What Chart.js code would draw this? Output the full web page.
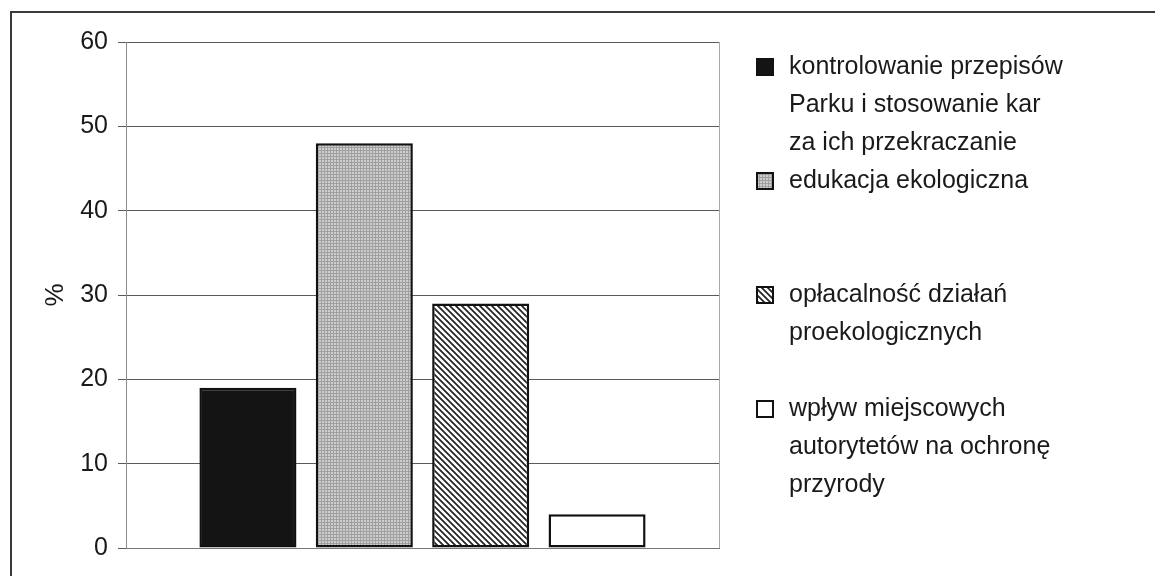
<!DOCTYPE html>
<html>
<head>
<meta charset="utf-8">
<script src="https://cdn.jsdelivr.net/npm/chart.js@4/dist/chart.umd.min.js"></script>
<style>
  html, body { margin: 0; padding: 0; background: #fff; }
  canvas { display: block; }
</style>
</head>
<body>
<canvas id="c" width="1155" height="576"></canvas>
<script>
// Survey answers: which measures best protect the Park (share of respondents, %)
const categories = [''];
const seriesLines = [
  ['kontrolowanie przepisów', 'Parku i stosowanie kar', 'za ich przekraczanie'],
  ['edukacja ekologiczna'],
  ['opłacalność działań', 'proekologicznych'],
  ['wpływ miejscowych', 'autorytetów na ochronę', 'przyrody']
];
const seriesValues = [19, 48, 29, 4];
const yTicks = [0, 10, 20, 30, 40, 50, 60];
const yTitle = '%';

const FONT = "'Liberation Sans', Arial, sans-serif";
const INK = '#1a1a1a';

// Fill patterns for the bars
function dotPattern() {
  const c = document.createElement('canvas');
  c.width = 3; c.height = 3;
  const g = c.getContext('2d');
  g.fillStyle = '#cdcdcd';
  g.fillRect(0, 0, 3, 3);
  g.fillStyle = '#a0a0a0';
  g.fillRect(0, 0, 3, 1);
  g.fillRect(0, 0, 1, 3);
  return g.createPattern(c, 'repeat');
}
function hatchPattern() {
  const s = 6;
  const c = document.createElement('canvas');
  c.width = s; c.height = s;
  const g = c.getContext('2d');
  g.fillStyle = '#ffffff';
  g.fillRect(0, 0, s, s);
  g.strokeStyle = '#222';
  g.lineWidth = 1.7;
  g.beginPath();
  g.moveTo(-1, -1); g.lineTo(s + 1, s + 1);
  g.moveTo(-1, s - 1); g.lineTo(1, s + 1);
  g.moveTo(s - 1, -1); g.lineTo(s + 1, 1);
  g.stroke();
  return g.createPattern(c, 'repeat');
}

const fills = ['#141414', dotPattern(), hatchPattern(), '#ffffff'];

const datasets = seriesValues.map((v, i) => ({
  label: seriesLines[i].join(' '),
  data: [v],
  backgroundColor: fills[i],
  borderColor: '#111',
  borderWidth: 2.5,
  borderSkipped: false,
  categoryPercentage: 0.785,
  barPercentage: 0.834
}));

// Page frame and plot border
const framePlugin = {
  id: 'frame',
  beforeDraw(chart) {
    const g = chart.ctx;
    g.save();
    g.strokeStyle = '#3a3a3a';
    g.lineWidth = 2;
    g.beginPath();
    g.moveTo(11, 577); g.lineTo(11, 12); g.lineTo(1156, 12);
    g.stroke();
    g.restore();
  },
  afterDraw(chart) {
    const a = chart.chartArea;
    const g = chart.ctx;
    g.save();
    g.strokeStyle = '#a8a8a8';
    g.lineWidth = 1;
    g.beginPath();
    g.moveTo(Math.round(a.right) + 0.5, a.top);
    g.lineTo(Math.round(a.right) + 0.5, a.bottom);
    g.stroke();
    g.restore();
  }
};

// Legend on the right: each entry takes three text rows
const legendPlugin = {
  id: 'sideLegend',
  afterDraw(chart) {
    const g = chart.ctx;
    const a = chart.chartArea;
    const x0 = a.right + 37;
    const textX = x0 + 33;
    const rowH = 38;
    const firstY = 67;
    g.save();
    g.font = '25px ' + FONT;
    g.textBaseline = 'middle';
    chart.data.datasets.forEach((ds, i) => {
      const y = firstY + i * 3 * rowH;
      // swatch
      g.fillStyle = ds.backgroundColor;
      g.fillRect(x0, y - 9, 18, 18);
      g.strokeStyle = '#111';
      g.lineWidth = 2;
      g.strokeRect(x0 + 1, y - 8, 16, 16);
      // text
      g.fillStyle = INK;
      seriesLines[i].forEach((line, k) => {
        g.fillText(line, textX, y + k * rowH);
      });
    });
    g.restore();
  }
};

new Chart(document.getElementById('c'), {
  type: 'bar',
  data: { labels: categories, datasets },
  options: {
    responsive: false,
    devicePixelRatio: 1,
    animation: false,
    layout: { padding: { left: 0, top: 42, right: 436, bottom: 28 } },
    plugins: {
      legend: { display: false },
      tooltip: { enabled: false }
    },
    scales: {
      x: {
        type: 'category',
        ticks: { display: false },
        grid: { display: false },
        border: { display: true, color: '#777', width: 1 },
        afterFit(s) { s.height = 0; }
      },
      y: {
        min: yTicks[0],
        max: yTicks[yTicks.length - 1],
        afterBuildTicks(s) { s.ticks = yTicks.map(v => ({ value: v })); },
        ticks: {
          font: { family: FONT, size: 25 },
          color: INK,
          padding: 10
        },
        grid: {
          color: '#5a5a5a',
          lineWidth: 1,
          drawTicks: true,
          tickLength: 8,
          tickColor: '#5a5a5a'
        },
        border: { display: true, color: '#8a8a8a', width: 1 },
        title: {
          display: true,
          text: yTitle,
          font: { family: FONT, size: 26 },
          color: INK,
          padding: { top: 40, bottom: 0 }
        },
        afterFit(s) { s.width = 126; }
      }
    }
  },
  plugins: [framePlugin, legendPlugin]
});
</script>
</body>
</html>
